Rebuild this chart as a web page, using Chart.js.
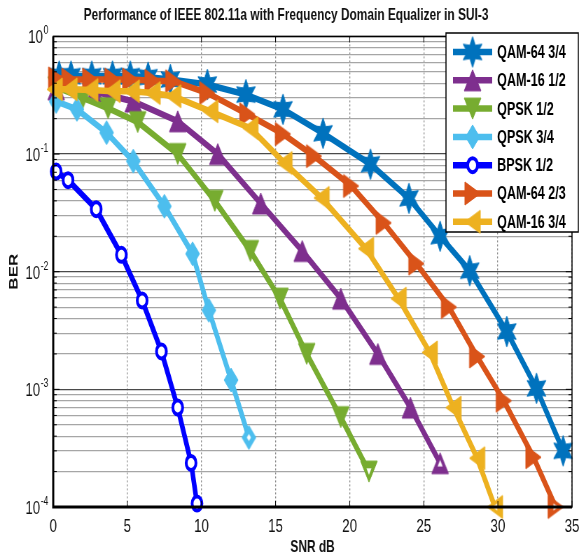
<!DOCTYPE html>
<html>
<head>
<meta charset="utf-8">
<script src="https://cdn.jsdelivr.net/npm/chart.js"></script>
<style>
html, body { margin: 0; padding: 0; background: #fff; overflow: hidden; }
#myChart { display: block; width: 579px; height: 559px; }
</style>
</head>
<body>
<!-- drawn 827px wide then squeezed to 579px, like the stretched MATLAB figure -->
<canvas id="myChart" width="827" height="559" style="width:579px;height:559px"></canvas>
<script>
//-------------------------DATA----------------------------------------------------------

var titleText = 'Performance of IEEE 802.11a with Frequency Domain Equalizer in SUI-3';
var xTitle = 'SNR dB';
var yTitle = 'BER';
var yTickBase = '10';
var yTickExp = ['0', '-1', '-2', '-3', '-4']; // 10^0 .. 10^-4

var seriesNames = ['QAM-64 3/4', 'QAM-16 1/2', 'QPSK 1/2', 'QPSK 3/4', 'BPSK 1/2', 'QAM-64 2/3', 'QAM-16 3/4'];

var snrQam64r34 = [0.4, 1.2, 2.6, 4.0, 5.2, 6.4, 7.9, 10.4, 13.0, 15.5, 18.2, 21.4, 24.0, 26.1, 28.1, 30.6, 32.6, 34.4];
var berQam64r34 = [0.46, 0.46, 0.46, 0.46, 0.46, 0.45, 0.43, 0.39, 0.32, 0.24, 0.15, 0.082, 0.042, 0.020, 0.0102, 0.0031, 0.00102, 0.0003];

var snrQam16r12 = [0.2, 2.8, 5.4, 8.4, 11.1, 14.0, 16.8, 19.4, 21.9, 24.1, 26.1];
var berQam16r12 = [0.355, 0.34, 0.28, 0.19, 0.1, 0.038, 0.015, 0.0059, 0.002, 0.0007, 0.000236];

var snrQpskr12 = [0.2, 2.0, 3.7, 5.7, 8.4, 10.9, 13.3, 15.3, 17.1, 19.4, 21.3];
var berQpskr12 = [0.37, 0.30, 0.245, 0.187, 0.1, 0.04, 0.015, 0.0059, 0.002, 0.00058, 0.0002];

var snrQpskr34 = [0.2, 1.6, 3.6, 5.4, 7.5, 9.4, 10.5, 12.0, 13.2];
var berQpskr34 = [0.28, 0.24, 0.152, 0.087, 0.036, 0.0142, 0.0047, 0.0012, 0.00039];

var snrBpskr12 = [0.2, 1.0, 2.9, 4.6, 6.0, 7.3, 8.4, 9.3, 9.7];
var berBpskr12 = [0.071, 0.06, 0.034, 0.0139, 0.0057, 0.0021, 0.0007, 0.000237, 0.000107];

var snrQam64r23 = [0.2, 1.1, 2.5, 4.0, 5.2, 6.7, 8.1, 10.4, 13.1, 15.5, 17.6, 20.1, 22.3, 24.5, 26.7, 28.6, 30.4, 32.4, 33.9];
var berQam64r23 = [0.44, 0.43, 0.43, 0.43, 0.43, 0.42, 0.416, 0.33, 0.218, 0.148, 0.096, 0.0535, 0.026, 0.0117, 0.005, 0.0019, 0.0008, 0.000265, 0.0001];

var snrQam16r34 = [0.1, 1.1, 2.5, 4.0, 5.3, 6.7, 8.1, 10.6, 13.3, 15.6, 18.1, 21.1, 23.3, 25.4, 27.0, 28.6, 29.8];
var berQam16r34 = [0.355, 0.355, 0.35, 0.342, 0.342, 0.33, 0.31, 0.231, 0.166, 0.084, 0.0424, 0.0157, 0.0059, 0.00206, 0.0007, 0.00026, 0.0001];

//-------------------------STYLE----------------------------------------------------------

var FONT = "'Liberation Sans', Arial, sans-serif";
Chart.defaults.font.family = FONT;

var colors = ['#0072BD', '#7E2F8E', '#77AC30', '#4DBEEE', '#0000FF', '#D95319', '#EDB120'];
var lineW = 6.5;

// marker pictures (drawn in the wide canvas, they get squeezed with the rest)
function makeMarker(kind, w, h, color, hollow) {
    var c = document.createElement('canvas');
    c.width = Math.ceil(w) + 4;
    c.height = Math.ceil(h) + 4;
    var g = c.getContext('2d');
    g.translate(c.width / 2, c.height / 2);
    function shape(s) {
        var hw = w / 2 * s, hh = h / 2 * s;
        g.beginPath();
        if (kind === 'up') { g.moveTo(0, -hh); g.lineTo(hw, hh); g.lineTo(-hw, hh); }
        else if (kind === 'down') { g.moveTo(0, hh); g.lineTo(hw, -hh); g.lineTo(-hw, -hh); }
        else if (kind === 'right') { g.moveTo(hw, 0); g.lineTo(-hw, hh); g.lineTo(-hw, -hh); }
        else if (kind === 'left') { g.moveTo(-hw, 0); g.lineTo(hw, -hh); g.lineTo(hw, hh); }
        else if (kind === 'diamond') { g.moveTo(0, -hh); g.lineTo(hw, 0); g.lineTo(0, hh); g.lineTo(-hw, 0); }
        else if (kind === 'hexagram') {
            for (var k = 0; k < 12; k++) {
                var a = -Math.PI / 2 + k * Math.PI / 6;
                var r = (k % 2 === 0) ? 1 : 0.5;
                g.lineTo(Math.cos(a) * hw * r, Math.sin(a) * hh * r);
            }
        }
        g.closePath();
    }
    g.fillStyle = color;
    g.strokeStyle = color;
    g.lineWidth = 1;
    shape(1);
    g.fill();
    g.stroke();
    if (hollow) {
        g.fillStyle = '#fff';
        shape(0.3);
        g.fill();
    }
    return c;
}

// per series: marker kind, size, and whether the last marker looks hollow
var markerKinds = ['hexagram', 'up', 'down', 'diamond', 'circle', 'right', 'left'];
var markerW = [31, 24, 24, 20, 0, 22, 22];
var markerH = [31, 21, 21, 24, 0, 23, 23];
var lastHollow = [false, true, true, true, true, true, true];

function makeSeries(i, snr, ber) {
    var pts = [];
    for (let k = 0; k < snr.length; k++) {
        pts.push({ x: snr[k], y: ber[k] });
    }
    var ds = {
        label: seriesNames[i],
        data: pts,
        borderColor: colors[i],
        backgroundColor: colors[i],
        borderWidth: lineW,
        tension: 0,
        clip: false,
        order: 10 - i
    };
    if (markerKinds[i] === 'circle') {
        ds.pointStyle = 'circle';
        ds.pointRadius = 7;
        ds.pointBorderWidth = 4;
        ds.pointBorderColor = colors[i];
        ds.pointBackgroundColor = '#fff';
    } else {
        var full = makeMarker(markerKinds[i], markerW[i], markerH[i], colors[i], false);
        var open = makeMarker(markerKinds[i], markerW[i], markerH[i], colors[i], true);
        var styles = [];
        for (let k = 0; k < pts.length; k++) {
            styles.push((lastHollow[i] && k === pts.length - 1) ? open : full);
        }
        ds.pointStyle = styles;
        ds.legendMarker = full;
        ds.pointRadius = 10;
    }
    return ds;
}

var datasets = [
    makeSeries(0, snrQam64r34, berQam64r34),
    makeSeries(1, snrQam16r12, berQam16r12),
    makeSeries(2, snrQpskr12, berQpskr12),
    makeSeries(3, snrQpskr34, berQpskr34),
    makeSeries(4, snrBpskr12, berBpskr12),
    makeSeries(5, snrQam64r23, berQam64r23),
    makeSeries(6, snrQam16r34, berQam16r34)
];

// gridlines of the log axis: 1..9 in every decade
var yGridValues = [];
for (let e = -4; e <= 0; e++) {
    for (let m = 1; m <= 9; m++) {
        if (e === 0 && m > 1) break;
        yGridValues.push(m * Math.pow(10, e));
    }
}

function isDecade(v) {
    var l = Math.log10(v);
    return Math.abs(l - Math.round(l)) < 1e-6;
}

//-------------------------FRAME, Y LABELS AND LEGEND---------------------------------------

var legendBox = { left: 637, right: 826, top: 33, bottom: 232, firstY: 52, step: 28.3, lineX0: 647, lineX1: 703, textX: 710 };

var frameAndLegend = {
    id: 'frameAndLegend',
    afterDraw: function (chart) {
        var ctx = chart.ctx;
        var a = chart.chartArea;
        var xs = chart.scales.x;
        var ys = chart.scales.y;
        ctx.save();

        // y labels as 10 with a raised exponent
        ctx.fillStyle = '#111';
        ctx.textBaseline = 'alphabetic';
        ys.ticks.forEach(function (t) {
            if (!isDecade(t.value)) return;
            var py = ys.getPixelForValue(t.value);
            var ex = yTickExp[-Math.round(Math.log10(t.value))];
            ctx.font = '12px ' + FONT;
            var ew = ctx.measureText(ex).width;
            var right = a.left - 7;
            ctx.textAlign = 'left';
            ctx.fillText(ex, right - ew, py - 2);
            ctx.font = '19px ' + FONT;
            ctx.textAlign = 'right';
            ctx.fillText(yTickBase, right - ew - 1, py + 7);
        });

        // small inside ticks like matlab
        ctx.strokeStyle = '#000';
        ctx.lineWidth = 1;
        ys.ticks.forEach(function (t) {
            var py = ys.getPixelForValue(t.value);
            var len = isDecade(t.value) ? 9 : 5;
            ctx.beginPath();
            ctx.moveTo(a.left, py); ctx.lineTo(a.left + len, py);
            ctx.moveTo(a.right, py); ctx.lineTo(a.right - len, py);
            ctx.stroke();
        });
        xs.ticks.forEach(function (t) {
            var px = xs.getPixelForValue(t.value);
            ctx.beginPath();
            ctx.moveTo(px, a.bottom); ctx.lineTo(px, a.bottom - 6);
            ctx.moveTo(px, a.top); ctx.lineTo(px, a.top + 6);
            ctx.stroke();
        });

        // box
        ctx.lineWidth = 1.5;
        ctx.strokeRect(a.left, a.top, a.right - a.left, a.bottom - a.top);
        ctx.lineWidth = 3;
        ctx.beginPath();
        ctx.moveTo(a.left, a.top);
        ctx.lineTo(a.left, a.bottom);
        ctx.lineTo(a.right, a.bottom);
        ctx.stroke();

        // legend
        var L = legendBox;
        ctx.fillStyle = '#fff';
        ctx.fillRect(L.left, L.top, L.right - L.left, L.bottom - L.top);
        ctx.strokeStyle = '#000';
        ctx.lineWidth = 1.5;
        ctx.strokeRect(L.left, L.top, L.right - L.left, L.bottom - L.top);
        chart.data.datasets.forEach(function (ds, i) {
            var y = L.firstY + i * L.step;
            ctx.strokeStyle = ds.borderColor;
            ctx.lineWidth = ds.borderWidth;
            ctx.beginPath();
            ctx.moveTo(L.lineX0, y);
            ctx.lineTo(L.lineX1, y);
            ctx.stroke();
            var mx = (L.lineX0 + L.lineX1) / 2;
            if (ds.legendMarker) {
                var m = ds.legendMarker;
                ctx.drawImage(m, mx - m.width / 2, y - m.height / 2);
            } else {
                ctx.beginPath();
                ctx.arc(mx, y, ds.pointRadius, 0, Math.PI * 2);
                ctx.fillStyle = ds.pointBackgroundColor;
                ctx.fill();
                ctx.lineWidth = ds.pointBorderWidth;
                ctx.strokeStyle = ds.pointBorderColor;
                ctx.stroke();
            }
            ctx.fillStyle = '#000';
            ctx.font = 'bold 18px ' + FONT;
            ctx.textAlign = 'left';
            ctx.textBaseline = 'middle';
            ctx.fillText(ds.label, L.textX, y + 1);
        });
        ctx.restore();
    }
};

//-------------------------CHART------------------------------------------------------------

var ctx = document.getElementById('myChart').getContext('2d');
var chart = new Chart(ctx, {
    type: 'line',
    data: { datasets: datasets },
    plugins: [frameAndLegend],
    options: {
        responsive: false,
        animation: false,
        devicePixelRatio: 1,
        events: [],
        layout: { autoPadding: false, padding: { left: 0, right: 10, top: 0, bottom: 0 } },
        plugins: {
            legend: { display: false },
            tooltip: { enabled: false },
            title: {
                display: true,
                text: titleText,
                color: '#111',
                font: { family: FONT, size: 17, weight: 'bold' },
                padding: { top: 5, bottom: 11 }
            }
        },
        scales: {
            x: {
                type: 'linear',
                min: 0,
                max: 35,
                afterFit: function (scale) {
                    scale.height = 52;
                    scale.paddingLeft = 0;
                    scale.paddingRight = 0;
                },
                ticks: { stepSize: 5, color: '#111', font: { size: 19 }, padding: 8, maxRotation: 0 },
                grid: { color: '#8a8a8a', lineWidth: 1.3, drawTicks: false },
                border: { display: false, dash: [2, 2] },
                title: { display: true, text: xTitle, color: '#111', font: { size: 17, weight: 'bold' }, padding: { top: 0, bottom: 1 } }
            },
            y: {
                type: 'logarithmic',
                min: 0.0001,
                max: 1,
                afterFit: function (scale) { scale.width = 76; },
                afterBuildTicks: function (scale) {
                    scale.ticks = yGridValues.map(function (v) { return { value: v }; });
                },
                ticks: {
                    autoSkip: false,
                    color: 'rgba(0,0,0,0)',
                    font: { size: 16 },
                    padding: 5,
                    callback: function () { return ''; }
                },
                grid: {
                    color: function (c) { return (c.tick && isDecade(c.tick.value)) ? '#4a4a4a' : '#a6a6a6'; },
                    lineWidth: 1.2,
                    drawTicks: false
                },
                border: { display: false },
                title: { display: true, text: yTitle, color: '#111', font: { size: 17, weight: 'bold' }, padding: { top: 10, bottom: 0 } }
            }
        }
    }
});
</script>
</body>
</html>
